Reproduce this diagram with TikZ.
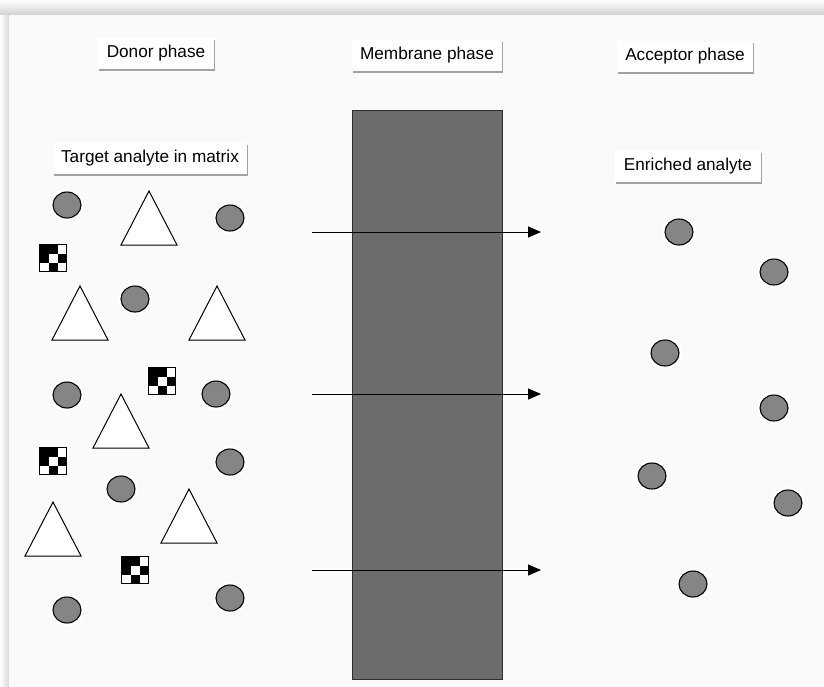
\documentclass[tikz,border=0pt]{standalone}
\usepackage{fontspec}
\setmainfont{Liberation Sans}
\usetikzlibrary{arrows.meta,shapes.geometric,shadows}

\definecolor{panel}{HTML}{FAFAFA}
\definecolor{membrane}{HTML}{6B6D6B}
\definecolor{membraneedge}{HTML}{2E2E2E}
\definecolor{dotgray}{HTML}{858585}

\tikzset{
  phase label/.style={fill=white, font=\fontsize{17.2}{20}\selectfont,
    inner xsep=8.5pt, inner ysep=0pt, minimum height=31pt,
    drop shadow={shadow xshift=1pt, shadow yshift=-2pt, opacity=0.35, fill=black}},
  particle/.style={ellipse, draw=black, line width=1.1pt, fill=dotgray,
    minimum width=28pt, minimum height=26pt, inner sep=0pt,
    preaction={draw=white, line width=6pt}},
  flow/.style={-{Triangle[length=13pt,width=11pt]}, line width=0.9pt},
  pics/matrixblock/.style={code={
    % 3x3 black/white block
    \fill[white] (-13.5,-13.5) rectangle (13.5,13.5);
    \fill[black] (-13.5,-13.5) rectangle (4.5,-4.5);
    \fill[black] (-13.5,-4.5) rectangle (-4.5,4.5);
    \fill[black] (4.5,-4.5) rectangle (13.5,4.5);
    \fill[black] (-4.5,4.5) rectangle (4.5,13.5);
    \draw[black, line width=1.2pt] (-13.5,-13.5) rectangle (13.5,13.5);
  }},
  pics/molecule/.style={code={
    % open triangle, apex at the origin
    \draw[black, line width=1pt, fill=white, line join=miter]
      (0,0) -- (28,54) -- (-28,54) -- cycle;
  }}
}

\begin{document}
\begin{tikzpicture}[x=1pt,y=-1pt]
  % page and panel
  \useasboundingbox (0,0) rectangle (824,686);
  \fill[white] (0,0) rectangle (824,686);
  \shade[top color=white, bottom color=black!18] (0,0) rectangle (824,15);
  \shade[left color=white, right color=black!16] (0,15) rectangle (9,686);
  \fill[panel] (9,15) rectangle (824,686);

  % phase headings
  \node[phase label] (donor) at (156,53) {Donor phase};
  \node[phase label] (membranehead) at (427,55) {Membrane phase};
  \node[phase label] (acceptor) at (685,56) {Acceptor phase};
  \node[phase label] (target) at (150,158) {Target analyte in matrix};
  \node[phase label] (enriched) at (688,166) {Enriched analyte};

  % membrane
  \node[draw=membraneedge, line width=1pt, fill=membrane, minimum width=150pt,
        minimum height=569pt, inner sep=0pt] (membrane) at (427,394.5) {};

  % transport arrows
  \coordinate (a1s) at (312,232); \coordinate (a1e) at (541,232);
  \coordinate (a2s) at (312,394); \coordinate (a2e) at (541,394);
  \coordinate (a3s) at (312,570); \coordinate (a3e) at (541,570);
  \draw[flow] (a1s) -- (a1e);
  \draw[flow] (a2s) -- (a2e);
  \draw[flow] (a3s) -- (a3e);

  % matrix components in the donor phase
  \pic at (149,191) {molecule};
  \pic at (80,286) {molecule};
  \pic at (217,286) {molecule};
  \pic at (121,394) {molecule};
  \pic at (189,489) {molecule};
  \pic at (53,502) {molecule};

  \pic at (53,258) {matrixblock};
  \pic at (162,381) {matrixblock};
  \pic at (53,461) {matrixblock};
  \pic at (135,570) {matrixblock};

  % analyte in the donor phase
  \node[particle] (d1) at (67,205) {};
  \node[particle] (d2) at (230,218) {};
  \node[particle] (d3) at (135,299) {};
  \node[particle] (d4) at (67,395) {};
  \node[particle] (d5) at (216,394) {};
  \node[particle] (d6) at (230,462) {};
  \node[particle] (d7) at (121,489) {};
  \node[particle] (d8) at (67,610) {};
  \node[particle] (d9) at (230,598) {};

  % enriched analyte in the acceptor phase
  \node[particle] (e1) at (679,232) {};
  \node[particle] (e2) at (774,272) {};
  \node[particle] (e3) at (665,353) {};
  \node[particle] (e4) at (774,408) {};
  \node[particle] (e5) at (652,476) {};
  \node[particle] (e6) at (788,503) {};
  \node[particle] (e7) at (693,584) {};
\end{tikzpicture}
\end{document}
